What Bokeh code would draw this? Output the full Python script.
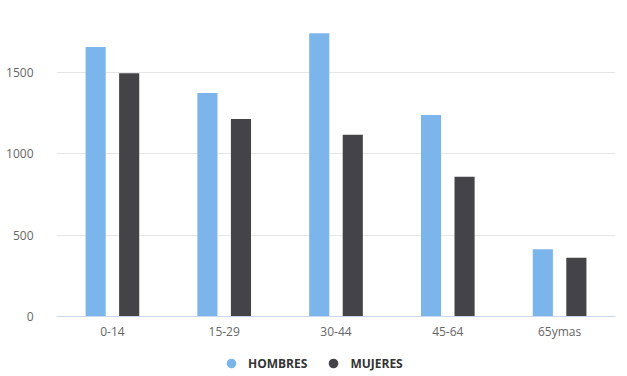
from bokeh.plotting import figure
from bokeh.layouts import column
from bokeh.models import (FactorRange, Range1d, ColumnDataSource, Legend, LegendItem,
                          SingleIntervalTicker)
from bokeh.transform import dodge
from bokeh.embed import file_html
from bokeh.resources import INLINE

categories = ["0-14", "15-29", "30-44", "45-64", "65ymas"]
hombres = [1656, 1374, 1741, 1238, 413]
mujeres = [1495, 1214, 1117, 859, 361]
series_names = ["HOMBRES", "MUJERES"]
colors = ["#7cb5ec", "#434348"]

src = ColumnDataSource(dict(cat=categories, hombres=hombres, mujeres=mujeres))

p = figure(x_range=FactorRange(*categories, range_padding=0), y_range=Range1d(0, 1893),
           frame_width=559, frame_height=308,
           min_border_left=56, min_border_right=4, min_border_top=8, min_border_bottom=30,
           output_backend="svg", toolbar_location=None)

p.vbar(x=dodge("cat", -0.15, range=p.x_range), top="hombres", width=0.18,
       source=src, color=colors[0], line_color=None)
p.vbar(x=dodge("cat", 0.15, range=p.x_range), top="mujeres", width=0.18,
       source=src, color=colors[1], line_color=None)

p.outline_line_color = None
p.xgrid.grid_line_color = None
p.ygrid.grid_line_color = "#e6e6e6"
p.yaxis.ticker = SingleIntervalTicker(interval=500)

for ax in [p.xaxis[0], p.yaxis[0]]:
    ax.major_tick_line_color = None
    ax.minor_tick_line_color = None
    ax.major_label_text_font = "Open Sans"
    ax.major_label_text_font_size = "12px"
    ax.major_label_text_color = "#666666"

p.yaxis.axis_line_color = None
p.yaxis.major_label_standoff = 17
p.xaxis.axis_line_color = "#ccd6eb"
p.xaxis.major_tick_out = 0
p.xaxis.major_tick_in = 0
p.xaxis.major_label_standoff = 6

# legend strip below the chart (helper markers sit outside its visible range)
lg = figure(width=619, height=30, min_border=0, x_axis_location=None, y_axis_location=None,
            x_range=Range1d(1, 2), y_range=Range1d(1, 2),
            output_backend="svg", toolbar_location=None)
lg.grid.grid_line_color = None
lg.outline_line_color = None
r_h = lg.scatter(x=[0], y=[0], marker="circle", color=colors[0], line_color=None)
r_m = lg.scatter(x=[0], y=[0], marker="circle", color=colors[1], line_color=None)

legend = Legend(items=[LegendItem(label=series_names[0], renderers=[r_h]),
                       LegendItem(label=series_names[1], renderers=[r_m])],
                orientation="horizontal", location=(163, 1),
                label_text_font="Open Sans", label_text_font_style="bold",
                label_text_font_size="12px", label_text_color="#333333",
                glyph_width=24, glyph_height=24, label_height=24, label_standoff=5,
                spacing=14, padding=0, margin=0, border_line_color=None,
                background_fill_alpha=0)
lg.add_layout(legend, "center")

layout = column(p, lg, spacing=0)
open("out.html", "w").write(file_html(layout, INLINE))
